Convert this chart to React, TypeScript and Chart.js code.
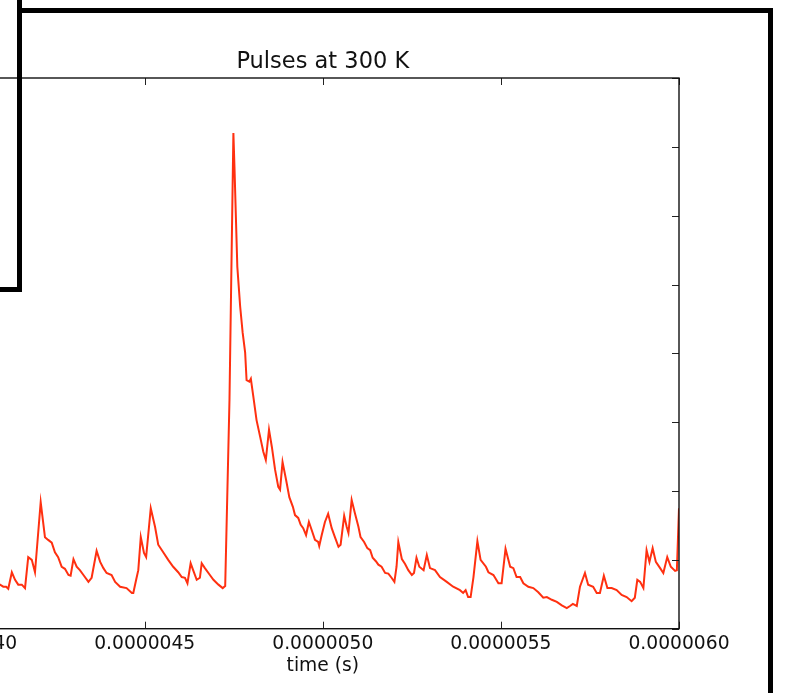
import React, { useEffect, useRef } from 'react';
import { Chart, registerables } from 'chart.js';

Chart.register(...registerables);

// time in microseconds (axis labels show seconds)
const timeUs = [
  4.000, 4.018, 4.035, 4.052, 4.066, 4.080, 4.094, 4.103, 4.111, 4.117,
  4.127, 4.136, 4.145, 4.155, 4.164, 4.173, 4.183, 4.192, 4.208, 4.220,
  4.229, 4.239, 4.248, 4.257, 4.267, 4.276, 4.286, 4.292, 4.300, 4.309,
  4.318, 4.328, 4.342, 4.351, 4.365, 4.375, 4.384, 4.393, 4.407, 4.417,
  4.431, 4.449, 4.464, 4.468, 4.476, 4.482, 4.489, 4.498, 4.504, 4.517,
  4.529, 4.538, 4.552, 4.566, 4.580, 4.594, 4.604, 4.613, 4.620, 4.629,
  4.636, 4.646, 4.655, 4.660, 4.669, 4.683, 4.693, 4.707, 4.719, 4.726,
  4.738, 4.749, 4.752, 4.756, 4.760, 4.768, 4.775, 4.782, 4.786, 4.794,
  4.798, 4.805, 4.814, 4.824, 4.833, 4.840, 4.849, 4.857, 4.866, 4.875,
  4.880, 4.887, 4.897, 4.906, 4.916, 4.922, 4.931, 4.938, 4.945, 4.953,
  4.961, 4.969, 4.978, 4.987, 4.990, 4.997, 5.006, 5.015, 5.025, 5.034,
  5.044, 5.050, 5.060, 5.067, 5.072, 5.081, 5.090, 5.100, 5.106, 5.116,
  5.125, 5.133, 5.140, 5.149, 5.156, 5.165, 5.175, 5.184, 5.193, 5.201,
  5.207, 5.212, 5.222, 5.231, 5.240, 5.250, 5.256, 5.263, 5.271, 5.283,
  5.292, 5.301, 5.315, 5.329, 5.348, 5.366, 5.385, 5.394, 5.401, 5.408,
  5.415, 5.423, 5.434, 5.443, 5.458, 5.465, 5.479, 5.493, 5.502, 5.513,
  5.526, 5.535, 5.544, 5.554, 5.563, 5.577, 5.591, 5.605, 5.619, 5.629,
  5.643, 5.657, 5.671, 5.685, 5.694, 5.702, 5.713, 5.722, 5.736, 5.745,
  5.759, 5.769, 5.778, 5.789, 5.799, 5.811, 5.825, 5.839, 5.853, 5.867,
  5.876, 5.883, 5.891, 5.900, 5.909, 5.917, 5.926, 5.935, 5.947, 5.956,
  5.967, 5.977, 5.989, 5.994, 6.000,
];

const signal = [
  0.59, 0.56, 0.66, 0.72, 0.64, 0.58, 0.64, 0.61, 0.61, 0.58,
  0.82, 0.71, 0.64, 0.64, 0.59, 1.04, 1.00, 0.82, 1.84, 1.33,
  1.29, 1.25, 1.11, 1.04, 0.90, 0.87, 0.78, 0.77, 1.01, 0.90,
  0.85, 0.78, 0.68, 0.74, 1.13, 0.97, 0.88, 0.81, 0.78, 0.68,
  0.61, 0.59, 0.52, 0.52, 0.71, 0.85, 1.33, 1.10, 1.04, 1.75,
  1.48, 1.22, 1.11, 1.00, 0.90, 0.82, 0.75, 0.74, 0.66, 0.95,
  0.85, 0.71, 0.74, 0.95, 0.88, 0.78, 0.71, 0.64, 0.59, 0.62,
  3.32, 7.20, 6.71, 5.98, 5.26, 4.68, 4.30, 4.01, 3.61, 3.59,
  3.63, 3.37, 3.03, 2.79, 2.57, 2.45, 2.89, 2.64, 2.31, 2.06,
  2.02, 2.42, 2.16, 1.91, 1.77, 1.65, 1.61, 1.51, 1.46, 1.36,
  1.55, 1.43, 1.29, 1.26, 1.20, 1.36, 1.55, 1.67, 1.46, 1.33,
  1.19, 1.22, 1.64, 1.48, 1.39, 1.87, 1.68, 1.48, 1.33, 1.26,
  1.17, 1.14, 1.03, 0.98, 0.93, 0.90, 0.81, 0.80, 0.74, 0.68,
  0.90, 1.26, 1.01, 0.94, 0.85, 0.78, 0.81, 1.03, 0.90, 0.85,
  1.07, 0.88, 0.85, 0.75, 0.68, 0.61, 0.56, 0.52, 0.56, 0.46,
  0.46, 0.75, 1.27, 1.00, 0.90, 0.82, 0.78, 0.66, 0.66, 1.16,
  0.90, 0.88, 0.75, 0.75, 0.66, 0.61, 0.59, 0.53, 0.45, 0.46,
  0.42, 0.39, 0.34, 0.30, 0.33, 0.36, 0.33, 0.61, 0.81, 0.64,
  0.61, 0.52, 0.52, 0.77, 0.59, 0.59, 0.56, 0.49, 0.46, 0.40,
  0.45, 0.71, 0.68, 0.59, 1.14, 0.97, 1.17, 0.97, 0.88, 0.81,
  1.04, 0.90, 0.84, 0.85, 1.75,
];

const xMin = 4.0;
const xMax = 6.0;
const xStep = 0.5;
const yMin = 0;
const yMax = 8;
const yTickValues = [0, 1, 2, 3, 4, 5, 6, 7, 8];
const chartTitle = 'Pulses at 300 K';
const xAxisTitle = 'time (s)';

const FONT = "'DejaVu Sans', sans-serif";
const CANVAS_W = 1000;
const CANVAS_H = 693;
const CANVAS_OFFSET = -200;

const axesFrame = {
  id: 'axesFrame',
  afterDraw(chart: any) {
    const { ctx, chartArea: a, scales } = chart;
    const xs = scales.x;
    const ys = scales.y;
    const tl = 7;
    ctx.save();
    ctx.strokeStyle = '#222';
    ctx.lineWidth = 1;
    ctx.beginPath();
    xs.ticks.forEach((t: any) => {
      const px = Math.round(xs.getPixelForValue(t.value)) + 0.5;
      ctx.moveTo(px, a.bottom);
      ctx.lineTo(px, a.bottom - tl);
      ctx.moveTo(px, a.top);
      ctx.lineTo(px, a.top + tl);
    });
    yTickValues.forEach((v) => {
      const py = Math.round(ys.getPixelForValue(v)) + 0.5;
      ctx.moveTo(a.left, py);
      ctx.lineTo(a.left + tl, py);
      ctx.moveTo(a.right, py);
      ctx.lineTo(a.right - tl, py);
    });
    ctx.stroke();
    ctx.strokeStyle = '#111';
    ctx.lineWidth = 1.4;
    ctx.strokeRect(a.left, a.top, a.right - a.left, a.bottom - a.top);
    ctx.restore();
  },
};

export default function App() {
  const ref = useRef<HTMLCanvasElement | null>(null);

  useEffect(() => {
    if (!ref.current) return;
    const data = timeUs.map((t, i) => ({ x: t, y: signal[i] }));
    const chart = new Chart(ref.current, {
      type: 'line',
      data: {
        datasets: [
          {
            data,
            borderColor: '#ff3010',
            borderWidth: 2,
            pointRadius: 0,
            tension: 0,
            fill: false,
          },
        ],
      },
      options: {
        responsive: false,
        animation: false,
        events: [],
        layout: { padding: { left: 166.6, right: 121, top: 0, bottom: 0 } },
        plugins: {
          legend: { display: false },
          tooltip: { enabled: false },
          title: {
            display: true,
            text: chartTitle,
            fullSize: false,
            color: '#111',
            font: { family: FONT, size: 22.5, weight: 'normal', lineHeight: 1.2 },
            padding: { top: 48.9, bottom: 2.1 },
          },
        },
        scales: {
          x: {
            type: 'linear',
            min: xMin,
            max: xMax,
            grid: { display: false, drawTicks: false },
            border: { display: false },
            ticks: {
              stepSize: xStep,
              autoSkip: false,
              maxRotation: 0,
              padding: 4,
              color: '#111',
              font: { family: FONT, size: 18.7 },
              callback: (v: any) => (Number(v) * 1e-6).toFixed(7),
            },
            title: {
              display: true,
              text: xAxisTitle,
              color: '#111',
              font: { family: FONT, size: 18.7 },
              padding: { top: 0, bottom: 15.5 },
            },
            afterFit: (scale: any) => {
              scale.height = 64.3;
            },
          },
          y: {
            type: 'linear',
            min: yMin,
            max: yMax,
            display: false,
          },
        },
      },
      plugins: [axesFrame],
    });
    return () => chart.destroy();
  }, []);

  return (
    <div
      style={{
        position: 'fixed',
        left: 0,
        top: 0,
        width: 788,
        height: 693,
        overflow: 'hidden',
        background: '#fff',
      }}
    >
      <canvas
        ref={ref}
        width={CANVAS_W}
        height={CANVAS_H}
        style={{ position: 'absolute', left: CANVAS_OFFSET, top: 0, width: CANVAS_W, height: CANVAS_H }}
      />
      <div
        style={{
          position: 'absolute',
          left: -100,
          top: -100,
          width: 122,
          height: 392,
          boxSizing: 'border-box',
          border: '5px solid #000',
        }}
      />
      <div
        style={{
          position: 'absolute',
          left: 17,
          top: 8,
          width: 756,
          height: 800,
          boxSizing: 'border-box',
          borderTop: '5px solid #000',
          borderRight: '5px solid #000',
        }}
      />
    </div>
  );
}
